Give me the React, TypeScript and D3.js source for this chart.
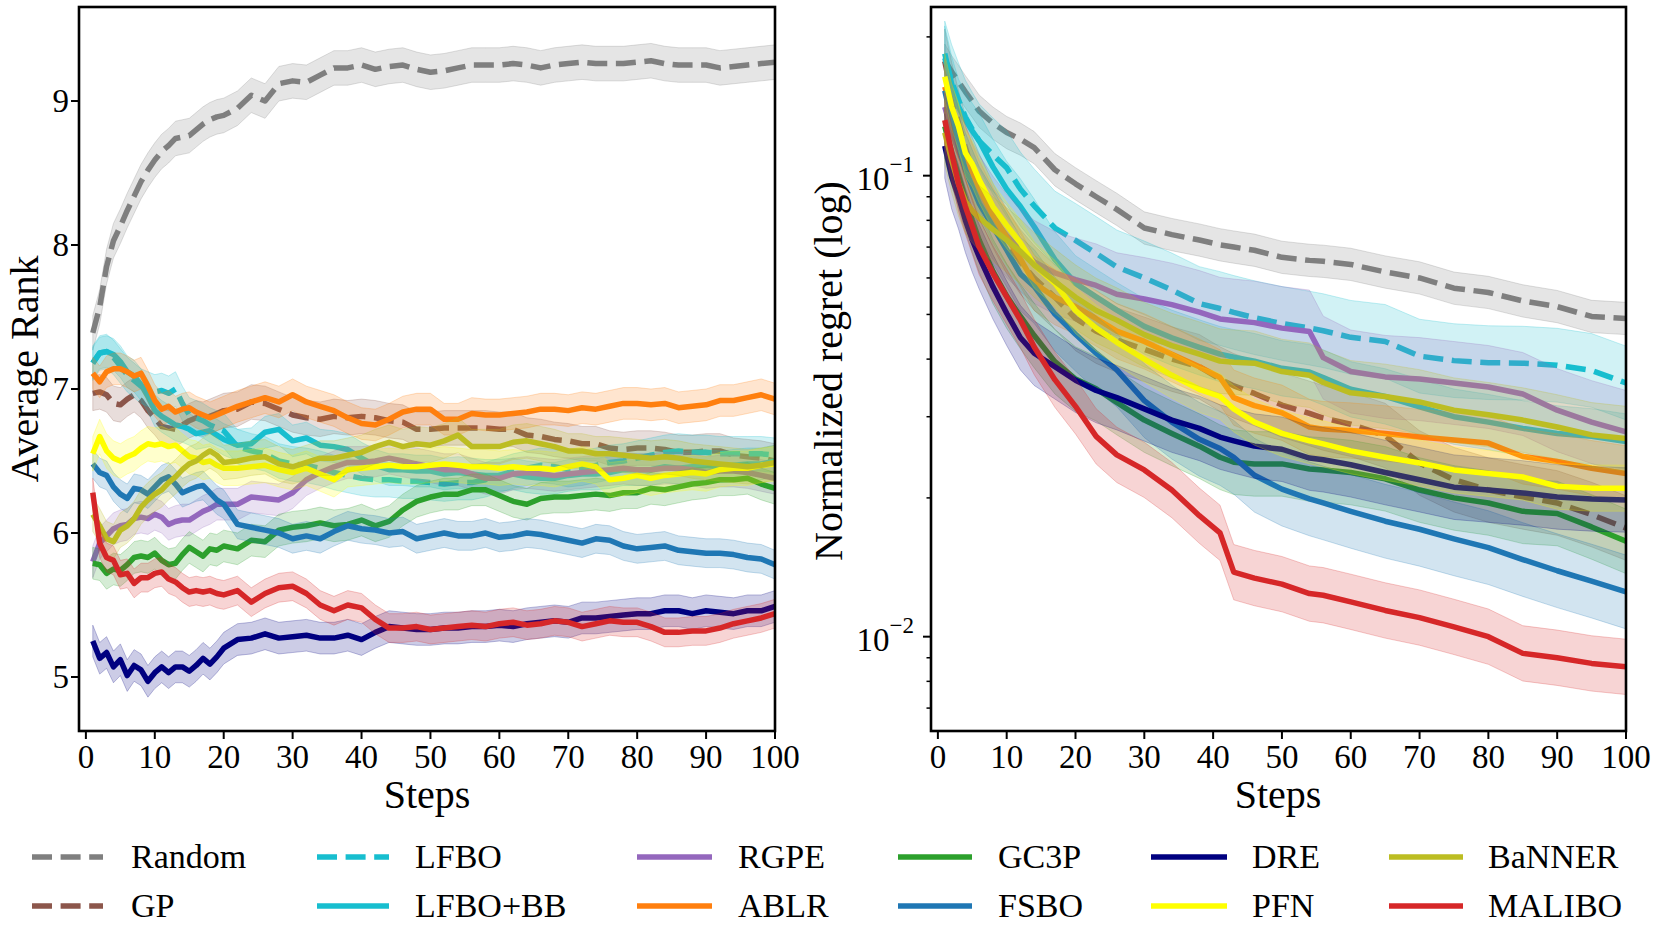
import React from "react";
import * as d3 from "d3";

// methods in plotting / legend order
const methods = ["Random", "GP", "LFBO", "LFBO+BB", "RGPE", "ABLR", "GC3P", "FSBO", "DRE", "PFN", "BaNNER", "MALIBO"];
const colors = ["#7f7f7f", "#8c564b", "#17becf", "#17becf", "#9467bd", "#ff7f0e", "#2ca02c", "#1f77b4", "#000080", "#ffff00", "#bcbd22", "#d62728"];
const dashed = [true, true, true, false, false, false, false, false, false, false, false, false];

// ---- left panel: average rank ----
const stepsL = [1, 2, 3, 4, 5, 6, 7, 8, 9, 10, 11, 12, 13, 14, 15, 16, 17, 18, 19, 20,
  22, 24, 26, 28, 30, 32, 34, 36, 38, 40, 42, 44, 46, 48, 50, 52, 54, 56, 58, 60,
  62, 64, 66, 68, 70, 72, 74, 76, 78, 80, 82, 84, 86, 88, 90, 92, 94, 96, 98, 100];

const rankRandom = [7.39, 7.57, 7.85, 8.03, 8.13, 8.24, 8.34, 8.44, 8.52, 8.59, 8.65, 8.69, 8.74, 8.75, 8.76, 8.80, 8.84, 8.87, 8.89, 8.90,
  8.95, 9.04, 9.00, 9.12, 9.14, 9.13, 9.18, 9.23, 9.23, 9.25, 9.22, 9.24, 9.25, 9.22, 9.20, 9.21, 9.23, 9.25, 9.25, 9.25,
  9.26, 9.25, 9.23, 9.25, 9.26, 9.27, 9.26, 9.26, 9.26, 9.27, 9.28, 9.26, 9.25, 9.25, 9.25, 9.23, 9.24, 9.25, 9.26, 9.27];
const rankGP = [6.97, 6.98, 6.96, 6.90, 6.89, 6.93, 6.96, 6.92, 6.85, 6.80, 6.74, 6.73, 6.72, 6.75, 6.78, 6.80, 6.79, 6.81, 6.83, 6.85,
  6.86, 6.91, 6.90, 6.86, 6.82, 6.80, 6.79, 6.81, 6.80, 6.81, 6.80, 6.78, 6.77, 6.72, 6.72, 6.73, 6.73, 6.73, 6.73, 6.72,
  6.72, 6.68, 6.67, 6.65, 6.64, 6.62, 6.62, 6.59, 6.58, 6.59, 6.59, 6.58, 6.56, 6.56, 6.57, 6.57, 6.54, 6.53, 6.52, 6.50];
const rankLFBO = [7.18, 7.25, 7.26, 7.22, 7.16, 7.10, 7.06, 7.02, 7.00, 6.98, 6.99, 6.97, 7.00, 6.90, 6.82, 6.80, 6.78, 6.75, 6.73, 6.71,
  6.60, 6.57, 6.55, 6.50, 6.48, 6.47, 6.45, 6.42, 6.40, 6.38, 6.37, 6.37, 6.36, 6.36, 6.35, 6.34, 6.35, 6.35, 6.37, 6.40,
  6.43, 6.45, 6.47, 6.46, 6.44, 6.45, 6.47, 6.49, 6.50, 6.52, 6.54, 6.56, 6.57, 6.56, 6.56, 6.55, 6.55, 6.55, 6.55, 6.54];
const rankLFBOBB = [7.18, 7.25, 7.26, 7.24, 7.19, 7.12, 7.09, 7.03, 6.95, 6.85, 6.81, 6.78, 6.75, 6.74, 6.72, 6.69, 6.70, 6.71, 6.68, 6.65,
  6.61, 6.62, 6.70, 6.72, 6.64, 6.66, 6.61, 6.60, 6.58, 6.52, 6.47, 6.44, 6.44, 6.43, 6.43, 6.41, 6.42, 6.41, 6.40, 6.40,
  6.41, 6.39, 6.38, 6.38, 6.40, 6.41, 6.41, 6.42, 6.44, 6.44, 6.44, 6.46, 6.45, 6.46, 6.47, 6.46, 6.47, 6.48, 6.48, 6.50];
const rankRGPE = [5.80, 5.93, 5.98, 6.03, 6.05, 6.06, 6.10, 6.11, 6.10, 6.13, 6.11, 6.06, 6.08, 6.09, 6.09, 6.12, 6.15, 6.17, 6.20, 6.20,
  6.20, 6.25, 6.24, 6.23, 6.28, 6.37, 6.42, 6.46, 6.49, 6.49, 6.50, 6.52, 6.50, 6.48, 6.46, 6.44, 6.44, 6.41, 6.38, 6.38,
  6.41, 6.42, 6.41, 6.40, 6.41, 6.42, 6.43, 6.44, 6.45, 6.44, 6.44, 6.45, 6.45, 6.44, 6.42, 6.43, 6.43, 6.42, 6.40, 6.38];
const rankABLR = [7.11, 7.05, 7.12, 7.14, 7.14, 7.12, 7.09, 7.11, 7.02, 6.92, 6.86, 6.88, 6.84, 6.86, 6.87, 6.84, 6.82, 6.80, 6.82, 6.84,
  6.88, 6.91, 6.94, 6.91, 6.96, 6.91, 6.88, 6.85, 6.80, 6.76, 6.75, 6.79, 6.84, 6.86, 6.86, 6.79, 6.79, 6.83, 6.82, 6.82,
  6.83, 6.84, 6.86, 6.86, 6.85, 6.87, 6.86, 6.88, 6.90, 6.90, 6.89, 6.90, 6.87, 6.88, 6.89, 6.92, 6.92, 6.94, 6.96, 6.93];
const rankGC3P = [5.79, 5.78, 5.72, 5.75, 5.74, 5.78, 5.83, 5.84, 5.83, 5.86, 5.81, 5.78, 5.79, 5.85, 5.90, 5.87, 5.84, 5.89, 5.88, 5.91,
  5.89, 5.95, 5.94, 6.02, 6.04, 6.05, 6.07, 6.05, 6.06, 6.09, 6.05, 6.08, 6.16, 6.22, 6.25, 6.27, 6.27, 6.30, 6.30, 6.26,
  6.22, 6.20, 6.24, 6.25, 6.25, 6.26, 6.27, 6.26, 6.28, 6.28, 6.31, 6.30, 6.32, 6.34, 6.35, 6.37, 6.37, 6.38, 6.34, 6.31];
const rankFSBO = [6.48, 6.42, 6.40, 6.32, 6.27, 6.24, 6.31, 6.30, 6.27, 6.32, 6.37, 6.39, 6.34, 6.28, 6.30, 6.32, 6.33, 6.28, 6.23, 6.20,
  6.06, 6.04, 6.02, 6.00, 5.96, 5.98, 5.96, 6.01, 6.05, 6.03, 6.02, 6.00, 6.01, 5.96, 5.98, 6.00, 5.98, 5.98, 6.00, 5.97,
  5.98, 6.00, 5.99, 5.97, 5.95, 5.93, 5.96, 5.95, 5.91, 5.89, 5.90, 5.91, 5.88, 5.87, 5.86, 5.86, 5.85, 5.83, 5.82, 5.78];
const rankDRE = [5.25, 5.13, 5.17, 5.07, 5.12, 5.01, 5.08, 5.05, 4.97, 5.03, 5.07, 5.03, 5.07, 5.07, 5.04, 5.08, 5.13, 5.09, 5.14, 5.20,
  5.26, 5.27, 5.30, 5.27, 5.28, 5.29, 5.27, 5.27, 5.29, 5.26, 5.31, 5.35, 5.34, 5.33, 5.33, 5.34, 5.34, 5.35, 5.35, 5.36,
  5.35, 5.37, 5.38, 5.39, 5.38, 5.41, 5.41, 5.42, 5.43, 5.44, 5.44, 5.46, 5.46, 5.44, 5.46, 5.45, 5.44, 5.46, 5.46, 5.49];
const rankPFN = [6.55, 6.67, 6.57, 6.52, 6.50, 6.53, 6.55, 6.59, 6.62, 6.61, 6.62, 6.60, 6.61, 6.57, 6.53, 6.52, 6.49, 6.50, 6.47, 6.45,
  6.45, 6.46, 6.47, 6.44, 6.42, 6.45, 6.41, 6.37, 6.44, 6.45, 6.46, 6.47, 6.46, 6.46, 6.47, 6.48, 6.47, 6.46, 6.46, 6.45,
  6.46, 6.45, 6.45, 6.44, 6.46, 6.48, 6.46, 6.37, 6.38, 6.40, 6.38, 6.40, 6.41, 6.42, 6.41, 6.44, 6.45, 6.45, 6.47, 6.48];
const rankBaNNER = [6.13, 6.05, 5.96, 5.94, 6.02, 6.05, 6.10, 6.18, 6.23, 6.27, 6.30, 6.35, 6.39, 6.44, 6.48, 6.50, 6.54, 6.57, 6.54, 6.49,
  6.50, 6.52, 6.53, 6.48, 6.46, 6.49, 6.52, 6.52, 6.54, 6.56, 6.60, 6.63, 6.60, 6.62, 6.61, 6.64, 6.68, 6.60, 6.60, 6.60,
  6.63, 6.64, 6.62, 6.60, 6.57, 6.57, 6.55, 6.55, 6.54, 6.53, 6.52, 6.53, 6.52, 6.50, 6.49, 6.48, 6.47, 6.46, 6.47, 6.49];
const rankMALIBO = [6.28, 5.93, 5.83, 5.81, 5.71, 5.72, 5.65, 5.69, 5.69, 5.72, 5.73, 5.68, 5.66, 5.62, 5.59, 5.60, 5.59, 5.60, 5.58, 5.57,
  5.60, 5.52, 5.58, 5.62, 5.63, 5.58, 5.50, 5.46, 5.50, 5.48, 5.40, 5.34, 5.34, 5.35, 5.33, 5.34, 5.35, 5.36, 5.35, 5.37,
  5.38, 5.36, 5.37, 5.39, 5.38, 5.35, 5.37, 5.39, 5.38, 5.38, 5.35, 5.31, 5.31, 5.32, 5.32, 5.34, 5.37, 5.39, 5.41, 5.44];

// half width of the shaded band (rank units)
const rankSpread = [0.12, 0.12, 0.12, 0.11, 0.11, 0.11, 0.11, 0.10, 0.11, 0.12, 0.12, 0.10];

// ---- right panel: normalized regret ----
const stepsR = [1, 2, 3, 4, 5, 6, 8, 10, 12, 14, 17, 20, 23, 26, 30, 34, 38, 41, 43, 46, 50, 54, 56, 60, 65, 70, 75, 80, 85, 90, 95, 100];

const regretRandom = [0.178, 0.168, 0.160, 0.152, 0.145, 0.138, 0.130, 0.124, 0.120, 0.115, 0.103, 0.096, 0.090, 0.0845, 0.077, 0.0745,
  0.0725, 0.0708, 0.0700, 0.0689, 0.0665, 0.0655, 0.0652, 0.0642, 0.0618, 0.0600, 0.0570, 0.0558, 0.0535, 0.0520, 0.0495, 0.0490];
const regretGP = [0.177, 0.150, 0.130, 0.115, 0.103, 0.095, 0.082, 0.072, 0.065, 0.060, 0.0545, 0.049, 0.046, 0.044, 0.042, 0.040,
  0.0385, 0.0362, 0.0350, 0.0337, 0.0318, 0.0305, 0.0298, 0.0289, 0.0273, 0.0238, 0.0219, 0.0208, 0.0201, 0.0195, 0.0184, 0.0172];
const regretLFBO = [0.180, 0.160, 0.146, 0.134, 0.126, 0.119, 0.111, 0.104, 0.0935, 0.086, 0.077, 0.0724, 0.0678, 0.0634, 0.060, 0.0565,
  0.0528, 0.0515, 0.0505, 0.0492, 0.0478, 0.0467, 0.0461, 0.0446, 0.0437, 0.0406, 0.0397, 0.0393, 0.0392, 0.0388, 0.0378, 0.0355];
const regretLFBOBB = [0.184, 0.158, 0.141, 0.132, 0.125, 0.119, 0.1045, 0.0935, 0.0857, 0.0775, 0.0658, 0.0584, 0.0546, 0.0511, 0.0471, 0.0445,
  0.0424, 0.0410, 0.0404, 0.0396, 0.0382, 0.0375, 0.0365, 0.0344, 0.0332, 0.0315, 0.0300, 0.0292, 0.0283, 0.0276, 0.0272, 0.0265];
const regretRGPE = [0.141, 0.125, 0.113, 0.104, 0.096, 0.090, 0.081, 0.074, 0.069, 0.065, 0.0615, 0.0595, 0.0578, 0.0553, 0.054, 0.0525,
  0.0506, 0.0489, 0.0485, 0.0480, 0.0467, 0.0459, 0.0403, 0.0376, 0.0366, 0.0362, 0.0355, 0.0348, 0.0336, 0.0310, 0.0292, 0.0278];
const regretABLR = [0.156, 0.138, 0.124, 0.112, 0.102, 0.094, 0.082, 0.0735, 0.066, 0.0585, 0.0545, 0.052, 0.049, 0.046, 0.0437, 0.041,
  0.0385, 0.0365, 0.0330, 0.0317, 0.0306, 0.0285, 0.0282, 0.0280, 0.0276, 0.0271, 0.0267, 0.0263, 0.0246, 0.0240, 0.0232, 0.0226];
const regretGC3P = [0.128, 0.112, 0.100, 0.089, 0.080, 0.0725, 0.0620, 0.0548, 0.0495, 0.0450, 0.0395, 0.0362, 0.0345, 0.0322, 0.0295, 0.0276,
  0.0259, 0.0245, 0.0239, 0.0237, 0.0237, 0.0231, 0.0230, 0.0227, 0.0220, 0.0208, 0.0200, 0.0195, 0.0187, 0.0185, 0.0173, 0.0161];
const regretFSBO = [0.153, 0.132, 0.116, 0.103, 0.0946, 0.0871, 0.0775, 0.069, 0.0612, 0.0575, 0.0501, 0.0453, 0.0412, 0.0379, 0.0325, 0.0292,
  0.0268, 0.0256, 0.0245, 0.0224, 0.0209, 0.0199, 0.0195, 0.0187, 0.0178, 0.0171, 0.0163, 0.0156, 0.0147, 0.0139, 0.0132, 0.0125];
const regretDRE = [0.116, 0.0995, 0.090, 0.080, 0.0725, 0.0667, 0.0574, 0.0503, 0.0445, 0.0412, 0.0385, 0.0360, 0.0342, 0.0330, 0.0312, 0.0295,
  0.0283, 0.0271, 0.0266, 0.0259, 0.0255, 0.0244, 0.0242, 0.0236, 0.0227, 0.0219, 0.0211, 0.0208, 0.0205, 0.0201, 0.0199, 0.0198];
const regretPFN = [0.164, 0.141, 0.128, 0.112, 0.106, 0.098, 0.0857, 0.078, 0.0715, 0.064, 0.0584, 0.051, 0.0467, 0.0435, 0.040, 0.0369,
  0.0344, 0.0332, 0.0312, 0.0292, 0.0276, 0.0266, 0.0262, 0.0253, 0.0245, 0.0238, 0.0230, 0.0226, 0.0222, 0.0212, 0.0210, 0.0210];
const regretBaNNER = [0.124, 0.108, 0.096, 0.088, 0.084, 0.081, 0.0765, 0.0725, 0.0685, 0.064, 0.059, 0.0545, 0.051, 0.0486, 0.0452, 0.0428,
  0.0410, 0.0396, 0.0394, 0.0392, 0.0376, 0.0369, 0.0356, 0.0338, 0.0332, 0.0323, 0.0310, 0.0303, 0.0295, 0.0285, 0.0274, 0.0269];
const regretMALIBO = [0.132, 0.112, 0.096, 0.0857, 0.0775, 0.070, 0.0614, 0.0546, 0.0486, 0.0425, 0.0361, 0.0316, 0.0272, 0.0248, 0.0230, 0.0208,
  0.0183, 0.0168, 0.0138, 0.0134, 0.0130, 0.0124, 0.0123, 0.0119, 0.0114, 0.0110, 0.0105, 0.0100, 0.0092, 0.0090, 0.00875, 0.0086];

// half width of the band in log10 units
const regretSpread = [0.035, 0.07, 0.08, 0.06, 0.09, 0.06, 0.07, 0.08, 0.07, 0.05, 0.07, 0.06];

const xTicks = [0, 10, 20, 30, 40, 50, 60, 70, 80, 90, 100];
const rankTicks = [5, 6, 7, 8, 9];
const regretTicks = [0.01, 0.1];

const rankSeries = [rankRandom, rankGP, rankLFBO, rankLFBOBB, rankRGPE, rankABLR, rankGC3P, rankFSBO, rankDRE, rankPFN, rankBaNNER, rankMALIBO];
const regretSeries = [regretRandom, regretGP, regretLFBO, regretLFBOBB, regretRGPE, regretABLR, regretGC3P, regretFSBO, regretDRE, regretPFN, regretBaNNER, regretMALIBO];

const FONT = '"Liberation Serif", "Times New Roman", Times, serif';
const LW = 5.5;
const DASH = "20,8.6";

const top = 7, bottom = 731;
const xL = d3.scaleLinear().domain([-1, 100]).range([79, 775]);
const yL = d3.scaleLinear().domain([4.625, 9.653]).range([bottom, top]);
const xR = d3.scaleLinear().domain([-1, 100]).range([931, 1626]);
const yR = d3.scaleLog().domain([0.006243, 0.2322]).range([bottom, top]);

function Series({ x, y, steps, vals, lo, hi, i, clip }) {
  const area = d3.area<number>()
    .x((d, k) => x(steps[k]))
    .y0((d) => y(lo(d)))
    .y1((d) => y(hi(d)));
  const line = d3.line<number>()
    .x((d, k) => x(steps[k]))
    .y((d) => y(d));
  return (
    <g clipPath={`url(#${clip})`}>
      <path d={area(vals) || ""} fill={colors[i]} fillOpacity={0.2} stroke={colors[i]} strokeOpacity={0.25} strokeWidth={1} />
      <path d={line(vals) || ""} fill="none" stroke={colors[i]} strokeWidth={LW}
        strokeLinejoin="round" strokeDasharray={dashed[i] ? DASH : undefined} />
    </g>
  );
}

export default function App() {
  const minor = yR.ticks().filter((t) => {
    const l = Math.log10(t);
    return Math.abs(l - Math.round(l)) > 1e-6;
  });

  const xAxis = (x, key) => (
    <g key={key}>
      {xTicks.map((t) => (
        <g key={t}>
          <line x1={x(t)} x2={x(t)} y1={bottom} y2={bottom + 8} stroke="#000" strokeWidth={2} />
          <text x={x(t)} y={bottom + 37} fontSize={33} textAnchor="middle">{t}</text>
        </g>
      ))}
    </g>
  );

  const legendCols = [[32, 103, 131], [317, 389, 415], [637, 712, 738], [898, 972, 998], [1151, 1227, 1252], [1389, 1463, 1488]];
  const legendRows = [857, 906];

  return (
    <svg width={1661} height={948} style={{ position: "absolute", left: 0, top: 0, background: "#fff" }} fontFamily={FONT}>
      <defs>
        <clipPath id="clipL"><rect x={79} y={top} width={696} height={bottom - top} /></clipPath>
        <clipPath id="clipR"><rect x={931} y={top} width={695} height={bottom - top} /></clipPath>
      </defs>

      {/* left panel */}
      {rankSeries.map((vals, i) => (
        <Series key={"l" + i} x={xL} y={yL} steps={stepsL} vals={vals} i={i} clip="clipL"
          lo={(v) => v - rankSpread[i]} hi={(v) => v + rankSpread[i]} />
      ))}
      <rect x={79} y={top} width={696} height={bottom - top} fill="none" stroke="#000" strokeWidth={2.6} />
      {xAxis(xL, "xl")}
      {rankTicks.map((t) => (
        <g key={t}>
          <line x1={79 - 8} x2={79} y1={yL(t)} y2={yL(t)} stroke="#000" strokeWidth={2} />
          <text x={69} y={yL(t) + 11} fontSize={33} textAnchor="end">{t}</text>
        </g>
      ))}
      <text x={427} y={808} fontSize={40} textAnchor="middle">Steps</text>
      <text transform={`translate(38,369) rotate(-90)`} fontSize={40} textAnchor="middle">Average Rank</text>

      {/* right panel */}
      {regretSeries.map((vals, i) => (
        <Series key={"r" + i} x={xR} y={yR} steps={stepsR} vals={vals} i={i} clip="clipR"
          lo={(v) => v / Math.pow(10, regretSpread[i])} hi={(v) => v * Math.pow(10, regretSpread[i])} />
      ))}
      <rect x={931} y={top} width={695} height={bottom - top} fill="none" stroke="#000" strokeWidth={2.6} />
      {xAxis(xR, "xr")}
      {minor.map((t) => (
        <line key={t} x1={931 - 4.5} x2={931} y1={yR(t)} y2={yR(t)} stroke="#000" strokeWidth={1.5} />
      ))}
      {regretTicks.map((t) => (
        <g key={t}>
          <line x1={931 - 8} x2={931} y1={yR(t)} y2={yR(t)} stroke="#000" strokeWidth={2} />
          <text x={914} y={yR(t) + 14} fontSize={33} textAnchor="end">
            10<tspan dy={-18} fontSize={23}>{"\u2212" + Math.round(-Math.log10(t))}</tspan>
          </text>
        </g>
      ))}
      <text x={1278} y={808} fontSize={40} textAnchor="middle">Steps</text>
      <text transform={`translate(842,371) rotate(-90)`} fontSize={40} textAnchor="middle">Normalized regret (log)</text>

      {/* legend, column-major like matplotlib ncol=6 */}
      {methods.map((m, i) => {
        const col = legendCols[Math.floor(i / 2)];
        const yy = legendRows[i % 2];
        return (
          <g key={m}>
            <line x1={col[0]} x2={col[1]} y1={yy} y2={yy} stroke={colors[i]} strokeWidth={LW}
              strokeDasharray={dashed[i] ? DASH : undefined} />
            <text x={col[2]} y={yy + 11} fontSize={34}>{m}</text>
          </g>
        );
      })}
    </svg>
  );
}
